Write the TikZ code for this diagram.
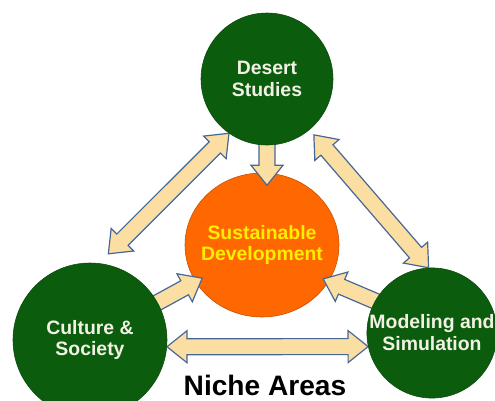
\documentclass[tikz,border=0pt]{standalone}
\usepackage{fontspec}
\setmainfont{Liberation Sans}
\usetikzlibrary{calc,shapes.geometric}

\definecolor{areagreen}{RGB}{12,92,14}
\definecolor{areatext}{RGB}{242,242,228}
\definecolor{coreorange}{RGB}{255,104,0}
\definecolor{coretext}{RGB}{255,238,0}
\definecolor{arrowfill}{RGB}{250,222,162}
\definecolor{arrowedge}{RGB}{72,102,150}

\pgfdeclarelayer{front}
\pgfsetlayers{main,front}

% block arrow from #1 (tail) to #2 (tip)
\newcommand{\onearrow}[2]{%
  \coordinate (hb) at ($(#2)!5mm!(#1)$);
  \draw[fat] ($(#1)!2mm!90:(#2)$) -- ($(hb)!2mm!90:(#2)$) -- ($(hb)!4mm!90:(#2)$) -- (#2)
    -- ($(hb)!4mm!-90:(#2)$) -- ($(hb)!2mm!-90:(#2)$) -- ($(#1)!2mm!-90:(#2)$) -- cycle;}
% block arrow with heads at #1 and #2
\newcommand{\twoarrow}[2]{%
  \coordinate (ha) at ($(#1)!5mm!(#2)$);
  \coordinate (hb) at ($(#2)!5mm!(#1)$);
  \draw[fat] (#1) -- ($(ha)!4mm!90:(#2)$) -- ($(ha)!2mm!90:(#2)$) -- ($(hb)!2mm!-90:(#1)$)
    -- ($(hb)!4mm!-90:(#1)$) -- (#2) -- ($(hb)!4mm!90:(#1)$) -- ($(hb)!2mm!90:(#1)$)
    -- ($(ha)!2mm!-90:(#2)$) -- ($(ha)!4mm!-90:(#2)$) -- cycle;}

\begin{document}
\begin{tikzpicture}[x=0.25mm, y=-0.25mm,
  area/.style={circle, fill=areagreen, draw=areagreen!80!black, inner sep=0pt, align=center,
    text=areatext, font=\fontsize{13.8}{15.6}\selectfont\bfseries},
  core/.style={ellipse, fill=coreorange, draw=coreorange!75!black, inner ysep=0pt, inner xsep=-3mm,
    align=center, text=coretext, font=\fontsize{13.8}{14.6}\selectfont\bfseries},
  fat/.style={fill=arrowfill, draw=arrowedge, line width=0.85pt, line join=miter}
]
  \useasboundingbox (0,0) rectangle (495,400);

  \node[core, minimum width=38.5mm, minimum height=36mm] (sust) at (262,245) {Sustainable\\Development};
  \begin{pgfonlayer}{front}
    \node[area, minimum size=33mm] (desert) at (267,79) {Desert\\Studies};
    \node[area, minimum size=38.5mm] (culture) at (90,340) {Culture \&\\Society};
    \node[area, minimum size=32.5mm] (model) at (432,333) {Modeling and\\Simulation};
  \end{pgfonlayer}

  % arrow ends
  \coordinate (d-in) at ($(desert.south)+(0,-6)$);
  \coordinate (s-top) at ($(desert.south)+(0,40)$);
  \coordinate (c-up) at ($(culture.center)!1.14!(culture.78)$);
  \coordinate (d-left) at (desert.235);
  \coordinate (d-right) at ($(desert.center)!1.1!(desert.310)$);
  \coordinate (m-up) at (model.93);
  \coordinate (c-in) at ($(culture.center)!0.9!(culture.29)$);
  \coordinate (s-left) at ($(sust.center)!0.9!(sust.209)$);
  \coordinate (m-in) at ($(model.center)!0.9!(model.150)$);
  \coordinate (s-right) at ($(sust.center)!0.92!(sust.331)$);
  \coordinate (c-right) at (culture.355);
  \coordinate (m-left) at (model.192);

  \onearrow{d-in}{s-top}
  \twoarrow{c-up}{d-left}
  \twoarrow{d-right}{m-up}
  \onearrow{c-in}{s-left}
  \onearrow{m-in}{s-right}
  \twoarrow{c-right}{m-left}

  \node[font=\fontsize{20}{24}\selectfont\bfseries, anchor=base, text depth=0pt] (niche) at (265,395) {Niche Areas};
\end{tikzpicture}
\end{document}
